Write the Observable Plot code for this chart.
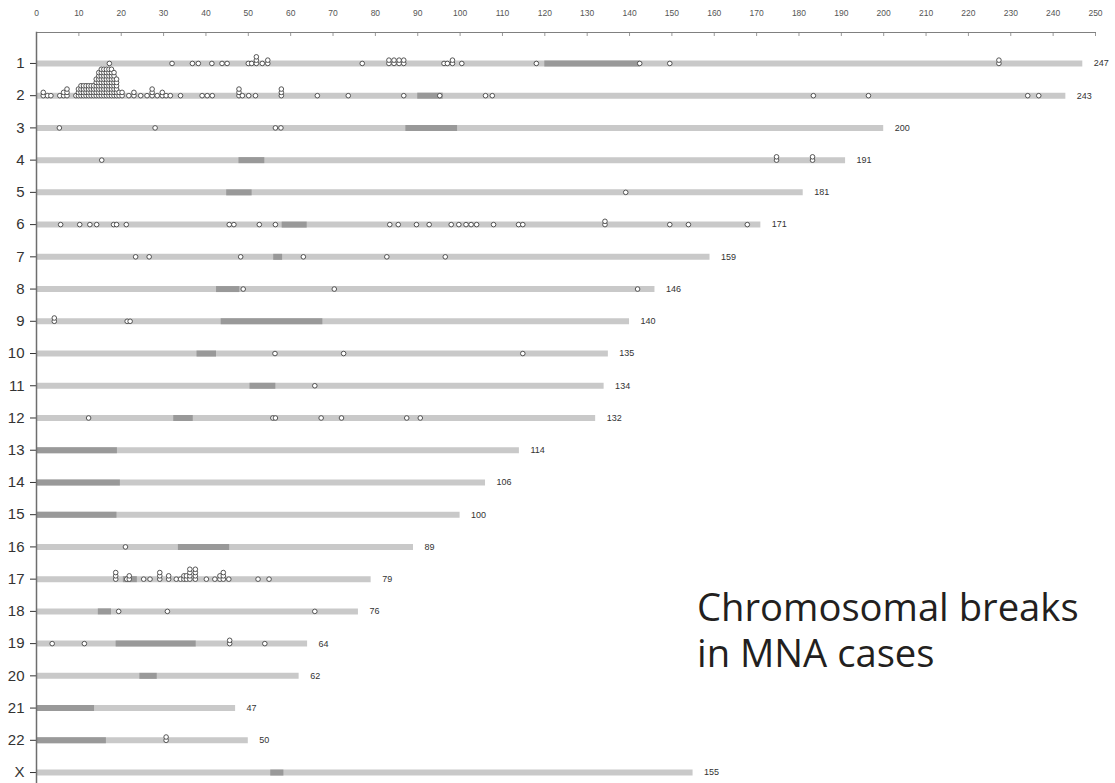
<!DOCTYPE html>
<html><head><meta charset="utf-8">
<script src="https://cdn.jsdelivr.net/npm/d3@7"></script>
<script src="https://cdn.jsdelivr.net/npm/@observablehq/plot@0.6"></script>
<style>
body{margin:0;background:#fff;}
#wrap{position:relative;width:1115px;height:783px;overflow:hidden;background:#fff}
.title{position:absolute;left:697px;height:44px;font-family:"Open Sans",sans-serif;font-size:38.2px;line-height:44px;color:#231f20;white-space:nowrap}
</style></head><body><div id="wrap"><div id="chart"></div><div class="title" style="top:584px">Chromosomal breaks</div><div class="title" style="top:630px">in MNA cases</div></div>
<script>
// Chromosome names and lengths (Mb)
const names = ["1","2","3","4","5","6","7","8","9","10","11","12","13","14","15","16","17","18","19","20","21","22","X"];
const lengths = [247,243,200,191,181,171,159,146,140,135,134,132,114,106,100,89,79,76,64,62,47,50,155];
// Darker (centromeric / heterochromatic) segments
const cenStart = [120,90,87.2,47.8,44.9,58,56,42.5,43.6,37.9,50.4,32.4,0,0,0,33.5,20.5,14.6,18.8,24.4,0,0,55.3];
const cenEnd   = [142.5,96,99.4,53.9,50.9,63.9,58.1,48,67.6,42.5,56.5,37,19.1,19.8,19,45.6,23.8,17.7,37.7,28.5,13.7,16.5,58.4];
// Break points: [position (Mb), number of cases]
const breaksChr1 = [[17.2,1],[32,1],[36.8,1],[38.2,1],[41.4,1],[43.8,1],[45,1],[50,1],[50.8,1],[51.9,3],[53.3,1],[54.6,2],[76.9,1],[83.2,2],[84.4,2],[85.6,2],[86.7,2],[96.2,1],[97,1],[98.2,2],[100.4,1],[118,1],[142.4,1],[149.5,1],[227.2,2]];
const breaksChr2 = [[1.6,2],[2.6,1],[3.4,1],[5.5,1],[6.4,2],[7.2,3],[9.3,1],[9.9,3],[10.5,4],[11.1,4],[11.7,4],[12.3,4],[12.9,4],[13.5,4],[14.1,6],[14.7,8],[15.3,9],[15.9,9],[16.5,9],[17.1,9],[17.7,9],[18.3,8],[18.9,6],[19.5,2],[20.2,2],[21.8,1],[23,2],[24.6,1],[26.1,1],[27.3,3],[28.5,1],[29.7,2],[30.6,1],[31.6,1],[34,1],[39.1,1],[40.3,1],[41.5,1],[47.8,3],[48.6,1],[50.1,1],[51.7,1],[57.8,3],[66.3,1],[73.6,1],[86.7,1],[95.2,1],[106,1],[107.6,1],[183.4,1],[196.4,1],[234,1],[236.6,1]];
const breaksChr3 = [[5.4,1],[28,1],[56.4,1],[57.7,1]];
const breaksChr4 = [[15.4,1],[174.7,2],[183.2,2]];
const breaksChr5 = [[139.1,1]];
const breaksChr6 = [[5.7,1],[10.2,1],[12.6,1],[14.2,1],[18.2,1],[18.9,1],[21.2,1],[45.5,1],[46.6,1],[52.6,1],[56.4,1],[83.4,1],[85.4,1],[89.7,1],[92.7,1],[97.9,1],[99.7,1],[101.4,1],[102.6,1],[103.9,1],[107.9,1],[113.8,1],[114.8,1],[134.2,2],[149.5,1],[153.9,1],[167.8,1]];
const breaksChr7 = [[23.4,1],[26.6,1],[48.2,1],[63,1],[82.7,1],[96.5,1]];
const breaksChr8 = [[48.8,1],[70.3,1],[141.9,1]];
const breaksChr9 = [[4.2,2],[21.4,1],[22.1,1]];
const breaksChr10 = [[56.3,1],[72.5,1],[114.8,1]];
const breaksChr11 = [[65.7,1]];
const breaksChr12 = [[12.3,1],[55.8,1],[56.4,1],[67.2,1],[72,1],[87.4,1],[90.6,1]];
const breaksChr13 = [];
const breaksChr14 = [];
const breaksChr15 = [];
const breaksChr16 = [[21,1]];
const breaksChr17 = [[18.7,3],[21.3,1],[21.9,2],[25.3,1],[26.8,1],[29.1,3],[31.2,2],[33,1],[34,1],[34.8,2],[35.4,2],[36.2,4],[37.5,4],[40.1,1],[42.1,1],[43.3,2],[44.1,3],[45.4,1],[52.3,1],[54.9,1]];
const breaksChr18 = [[19.4,1],[30.9,1],[65.7,1]];
const breaksChr19 = [[3.7,1],[11.3,1],[45.6,2],[53.9,1]];
const breaksChr20 = [];
const breaksChr21 = [];
const breaksChr22 = [[30.6,2]];
const breaksChrX = [];
const breaks = [breaksChr1,breaksChr2,breaksChr3,breaksChr4,breaksChr5,breaksChr6,breaksChr7,breaksChr8,breaksChr9,breaksChr10,breaksChr11,breaksChr12,breaksChr13,breaksChr14,breaksChr15,breaksChr16,breaksChr17,breaksChr18,breaksChr19,breaksChr20,breaksChr21,breaksChr22,breaksChrX];
const xTicks = d3.range(0, 251, 10);

const rows = names.map((n, i) => ({name: n, i, len: lengths[i], c0: cenStart[i], c1: cenEnd[i]}));
const pts = [];
breaks.forEach((arr, i) => arr.forEach(([pos, count]) => { for (let k = 0; k < count; k++) pts.push({pos, i, k}); }));
const STEP = 3.3 / 32.23; // stacking offset in row units

const plot = Plot.plot({
  width: 1115, height: 783,
  marginLeft: 36, marginRight: 20, marginTop: 32, marginBottom: 0,
  style: {fontFamily: "'Liberation Sans', Arial, sans-serif", background: "white", overflow: "visible"},
  x: {domain: [0, 250]},
  y: {domain: [-0.96, 22.34], reverse: true},
  marks: [
    Plot.frame({anchor: "top", stroke: "#808080"}),
    Plot.axisX({anchor: "top", ticks: xTicks, tickSize: 0, tickPadding: 17, fontSize: 8.5, color: "#555", label: null}),
    Plot.axisX({anchor: "top", ticks: xTicks, tickSize: -3, tickFormat: () => "", color: "#999", label: null}),
    Plot.axisY({ticks: d3.range(names.length), tickFormat: i => names[i], tickSize: 6, tickPadding: 6, fontSize: 15, color: "#333", label: null}),
    Plot.ruleY(rows, {y: "i", x1: 0, x2: "len", stroke: "#c9c9c9", strokeWidth: 6}),
    Plot.ruleY(rows.filter(d => d.c1 > d.c0), {y: "i", x1: "c0", x2: "c1", stroke: "#999", strokeWidth: 6}),
    Plot.text(rows, {x: "len", y: "i", text: d => String(d.len), dx: 11, textAnchor: "start", fontSize: 9, fill: "#333"}),
    Plot.dot(pts, {x: "pos", y: d => d.i - d.k * STEP, r: 2.3, fill: "white", stroke: "#444", strokeWidth: 0.9}),
    Plot.frame({anchor: "left", stroke: "#6e6e6e", strokeWidth: 1.5})
  ]
});
document.getElementById("chart").appendChild(plot);
</script>
</body></html>
